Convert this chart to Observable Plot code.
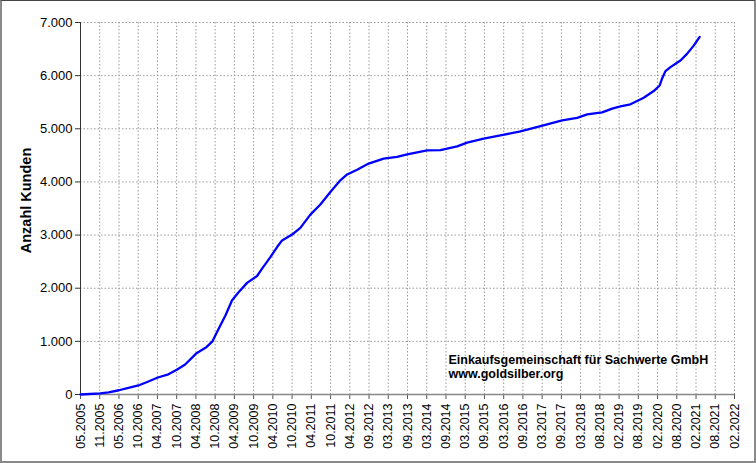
<!DOCTYPE html>
<html>
<head>
<meta charset="utf-8">
<script src="https://cdn.jsdelivr.net/npm/d3@7"></script>
<script src="https://cdn.jsdelivr.net/npm/@observablehq/plot@0.6"></script>
<style>
  body { margin: 0; background: #fff; }
  #wrap { position: relative; width: 756px; height: 463px; }
  #frame { position: absolute; left: 0; top: 0; width: 756px; height: 463px; box-sizing: border-box;
           border-left: 2px solid #8a8a8a; border-bottom: 2px solid #8a8a8a; border-top: 1px solid #444; border-right: 2px solid #8a8a8a; pointer-events: none; }
</style>
</head>
<body>
<div id="wrap"><div id="chart"></div><div id="frame"></div></div>
<script>
const labels = ["05.2005","11.2005","05.2006","10.2006","04.2007","10.2007","04.2008","10.2008","04.2009","10.2009",
  "04.2010","10.2010","04.2011","10.2011","04.2012","09.2012","03.2013","09.2013","03.2014","09.2014",
  "03.2015","09.2015","03.2016","09.2016","03.2017","09.2017","03.2018","08.2018","02.2019","08.2019",
  "02.2020","08.2020","02.2021","08.2021","02.2022"];

// position along the category axis (label index) and number of customers
const pos = [0.00,1.02,1.46,2.00,2.49,3.01,3.53,4.02,4.57,5.03,5.44,6.01,6.56,6.86,7.19,7.54,7.88,8.23,8.66,9.18,
  9.44,9.88,10.22,10.48,11.00,11.43,11.95,12.47,12.99,13.51,13.86,14.38,14.98,15.76,16.46,16.98,18.02,18.71,19.58,20.10,
  20.96,21.83,22.87,23.87,25.04,25.82,26.34,27.12,27.64,28.07,28.59,29.28,29.80,30.11,30.23,30.41,30.67,31.19,31.53,31.88,32.19];
const kunden = [0,20,40,80,125,170,245,320,380,470,565,770,895,1000,1240,1490,1775,1930,2100,2230,
  2370,2590,2775,2900,3010,3135,3385,3575,3810,4030,4140,4230,4345,4440,4470,4520,4595,4600,4670,4740,
  4815,4875,4950,5045,5160,5205,5270,5310,5380,5420,5460,5585,5710,5815,5940,6085,6160,6285,6410,6565,6730];

const yTicks = [0,1000,2000,3000,4000,5000,6000,7000];
const yLabel = "Anzahl Kunden";
const noteLines = ["Einkaufsgemeinschaft für Sachwerte GmbH", "www.goldsilber.org"];
const notePos = {x: 19.13, y: 534};

const fmt = d => d3.format(",")(d).replace(/,/g, ".");
const data = pos.map((p, i) => ({x: p, y: kunden[i]}));
const grid = {stroke: "#9a9a9a", strokeOpacity: 1, strokeDasharray: "1.5,2", strokeWidth: 1};

const chart = Plot.plot({
  width: 756, height: 463,
  marginLeft: 80, marginRight: 22, marginTop: 22, marginBottom: 69,
  style: {fontFamily: "'Liberation Sans', Arial, sans-serif", fontSize: "13px", color: "#000", background: "#fff"},
  x: {domain: [0, labels.length - 1]},
  y: {domain: [0, 7000]},
  marks: [
    Plot.gridY(yTicks.slice(1), grid),
    Plot.gridX(d3.range(1, labels.length), grid),
    Plot.axisY(yTicks, {tickFormat: fmt, tickSize: 5, tickPadding: 3, label: null, fontSize: 13, stroke: "#333"}),
    Plot.axisX(d3.range(0, labels.length), {tickFormat: i => labels[i], tickRotate: -90, tickSize: 5, tickPadding: 4, label: null, fontSize: 12.5, stroke: "#555"}),
    Plot.ruleX([0], {stroke: "#333", strokeWidth: 1}),
    Plot.ruleY([0], {stroke: "#888", strokeWidth: 1.5}),
    Plot.line(data, {x: "x", y: "y", stroke: "#0000ff", strokeWidth: 2.3}),
    Plot.text([yLabel], {frameAnchor: "left", textAnchor: "middle", rotate: -90, dx: -54, dy: -8, fontWeight: "bold", fontSize: 14.5, fill: "#000"}),
    Plot.text([noteLines.join("\n")], {x: () => notePos.x, y: () => notePos.y, textAnchor: "start", lineAnchor: "middle", lineHeight: 1.12, fontWeight: "bold", fontSize: 12.5, fill: "#000"})
  ]
});
document.getElementById("chart").appendChild(chart);
</script>
</body>
</html>
